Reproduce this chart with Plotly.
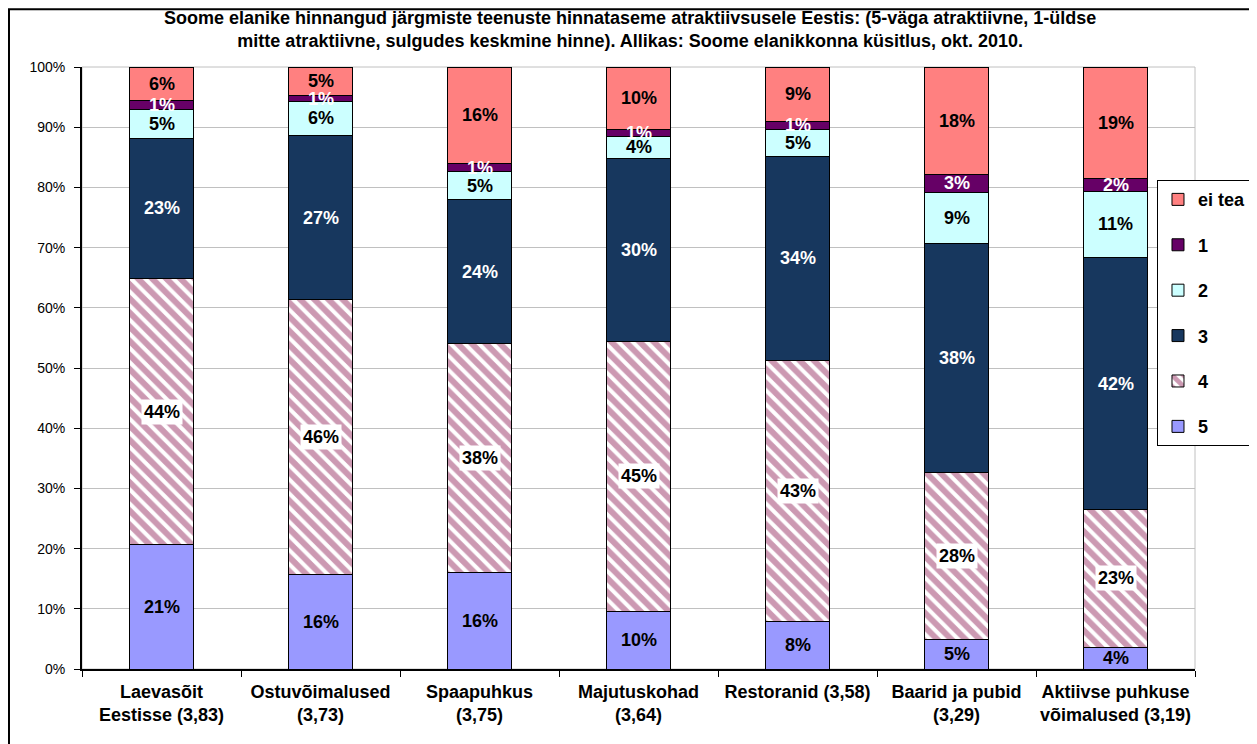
import plotly.graph_objects as go

# kategooriad (x-telg)
categories = [
    "Laevasõit<br>Eestisse (3,83)",
    "Ostuvõimalused<br>(3,73)",
    "Spaapuhkus<br>(3,75)",
    "Majutuskohad<br>(3,64)",
    "Restoranid (3,58)",
    "Baarid ja pubid<br>(3,29)",
    "Aktiivse puhkuse<br>võimalused (3,19)",
]

# hinnangute osakaalud (%), alt üles
hinne_5 = [20.6, 15.7, 16.0, 9.6, 7.9, 4.9, 3.6]
hinne_4 = [44.3, 45.6, 38.0, 44.8, 43.4, 27.7, 22.9]
hinne_3 = [23.2, 27.4, 24.0, 30.4, 33.8, 38.0, 41.8]
hinne_2 = [4.9, 5.5, 4.6, 3.7, 4.6, 8.6, 11.1]
hinne_1 = [1.4, 1.0, 1.4, 1.2, 1.3, 3.0, 2.0]
ei_tea = [5.6, 4.8, 16.0, 10.3, 9.0, 17.8, 18.6]

y_ticks = [0, 10, 20, 30, 40, 50, 60, 70, 80, 90, 100]

FONT = "Liberation Sans, Arial, sans-serif"

series = [
    ("5", hinne_5, "#9999FF", "black", False),
    ("4", hinne_4, "white", "black", True),
    ("3", hinne_3, "#17375E", "white", False),
    ("2", hinne_2, "#CCFFFF", "black", False),
    ("1", hinne_1, "#660066", "white", False),
    ("ei tea", ei_tea, "#FF8080", "black", False),
]

fig = go.Figure()
annotations = []
base = [0.0] * len(categories)

for rank, (name, vals, color, txtcol, hatched) in enumerate(series):
    marker = dict(color=color, line=dict(color="black", width=1))
    if hatched:
        marker["pattern"] = dict(shape="\\", fgcolor="#993366", bgcolor="white",
                                 size=10, solidity=0.6)
    fig.add_trace(go.Bar(
        name=name,
        x=categories,
        y=vals,
        marker=marker,
        legendgroup=name,
        legendrank=100 - rank,
        hoverinfo="skip",
    ))
    # andmesildid
    for i, v in enumerate(vals):
        annotations.append(dict(
            x=categories[i], y=base[i] + v / 2, xref="x", yref="y",
            text=f"{v:.0f}%", showarrow=False,
            font=dict(family=FONT, size=18, color=txtcol, weight="bold"),
            bgcolor="white" if hatched else None,
            borderpad=2,
        ))
        base[i] += v

# pealkiri
annotations.append(dict(
    text="Soome elanike hinnangud järgmiste teenuste hinnataseme atraktiivsusele Eestis: (5-väga atraktiivne, 1-üldse<br>mitte atraktiivne, sulgudes keskmine hinne). Allikas: Soome elanikkonna küsitlus, okt. 2010.",
    xref="paper", yref="paper", x=0.492, y=1.0615,
    xanchor="center", yanchor="middle", align="center", showarrow=False,
    font=dict(family=FONT, size=18, weight="bold"),
))

# välimine raam
fig.add_shape(type="rect", xref="paper", yref="paper",
              x0=-0.0656, x1=1.053, y0=-0.2, y1=1.096,
              line=dict(color="black", width=2), layer="below")
# joonise ala piir
fig.add_shape(type="rect", xref="paper", yref="paper",
              x0=0, x1=1, y0=0, y1=1,
              line=dict(color="#C0C0C0", width=1), layer="below")

fig.update_layout(
    width=1249,
    height=736,
    margin=dict(l=74, r=62, t=59, b=75, autoexpand=False),
    barmode="stack",
    bargap=0.6,
    paper_bgcolor="white",
    plot_bgcolor="white",
    font=dict(family=FONT, color="black"),
    xaxis=dict(
        showline=True, linecolor="black", linewidth=2,
        ticks="outside", tickson="boundaries", ticklen=6, tickcolor="black",
        ticklabelstandoff=5,
        tickangle=0,
        tickfont=dict(family=FONT, size=18, weight="bold"),
        showgrid=False,
    ),
    yaxis=dict(
        range=[0, 100],
        tickvals=y_ticks,
        ticktext=[f"{t}%" for t in y_ticks],
        ticks="outside", ticklen=6, tickcolor="black",
        ticklabelstandoff=6,
        showline=True, linecolor="black", linewidth=2,
        gridcolor="#C0C0C0", gridwidth=1, zeroline=False,
        tickfont=dict(family=FONT, size=14),
    ),
    legend=dict(
        x=1.0512, xanchor="right", y=0.812, yanchor="top",
        bgcolor="white", bordercolor="black", borderwidth=1,
        font=dict(family=FONT, size=18, weight="bold"),
        traceorder="grouped",
        tracegroupgap=19,
        itemwidth=30,
    ),
    annotations=annotations,
)

fig.write_html("out.html")
